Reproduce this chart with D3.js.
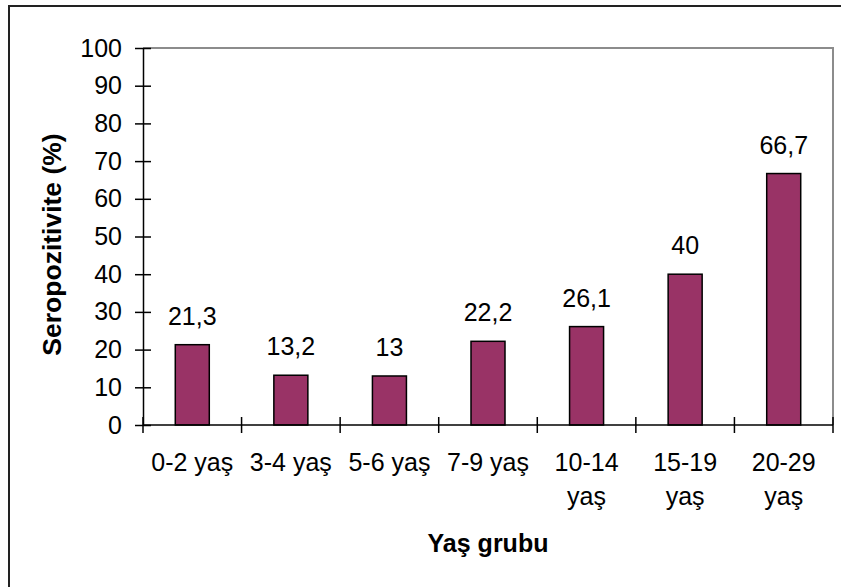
<!DOCTYPE html>
<html>
<head>
<meta charset="utf-8">
<script src="https://cdn.jsdelivr.net/npm/d3@7"></script>
<style>
  html, body { margin: 0; padding: 0; background: #fff; }
  svg { display: block; font-family: "Liberation Sans", Arial, sans-serif; }
</style>
</head>
<body>
<svg id="chart" width="841" height="587"></svg>
<script>
// Age groups (labels may wrap onto two lines) and seropositivity rates (%)
const categories = [["0-2 yaş"], ["3-4 yaş"], ["5-6 yaş"], ["7-9 yaş"], ["10-14", "yaş"], ["15-19", "yaş"], ["20-29", "yaş"]];
const values = [21.3, 13.2, 13, 22.2, 26.1, 40, 66.7];
const valueLabels = ["21,3", "13,2", "13", "22,2", "26,1", "40", "66,7"];
const yTicks = [0, 10, 20, 30, 40, 50, 60, 70, 80, 90, 100];

const svg = d3.select("#chart");
const plot = { left: 143, right: 833, top: 48, bottom: 425 };
const keys = categories.map((c, i) => i);

// Category slots (for tick marks) and bars centred in each slot
const slot = d3.scaleBand().domain(keys).range([plot.left, plot.right]).padding(0);
const x = d3.scaleBand().domain(keys).range([plot.left, plot.right])
  .paddingInner(0.655).paddingOuter(0.3275);
const y = d3.scaleLinear().domain([0, 100]).range([plot.bottom, plot.top]);

const FS = 25;

// Outer chart frame
svg.append("rect")
  .attr("x", 9).attr("y", 6).attr("width", 850).attr("height", 600)
  .attr("fill", "none").attr("stroke", "#222").attr("stroke-width", 2);

// Plot-area frame (grey top and right edges)
svg.append("path")
  .attr("d", `M${plot.left},${plot.top}H${plot.right}V${plot.bottom}`)
  .attr("fill", "none").attr("stroke", "#8c8c8c").attr("stroke-width", 2);

// Bars
svg.append("g").selectAll("rect").data(values).join("rect")
  .attr("x", (d, i) => x(i))
  .attr("y", d => y(d))
  .attr("width", x.bandwidth())
  .attr("height", d => y(0) - y(d))
  .attr("fill", "#993366")
  .attr("stroke", "#000").attr("stroke-width", 1.5);

// Value labels above the bars
svg.append("g").selectAll("text").data(values).join("text")
  .attr("x", (d, i) => x(i) + x.bandwidth() / 2)
  .attr("y", d => y(d) - 20)
  .attr("text-anchor", "middle")
  .attr("font-size", FS).attr("fill", "#000")
  .text((d, i) => valueLabels[i]);

// Y axis with crossing ticks
const yAxis = d3.axisLeft(y).tickValues(yTicks).tickSize(0).tickPadding(21);
const gy = svg.append("g").attr("transform", `translate(${plot.left},0)`).call(yAxis);
gy.select(".domain").attr("stroke", "#000").attr("stroke-width", 1.5);
gy.selectAll(".tick text").attr("font-size", FS).attr("fill", "#000")
  .attr("font-family", "Liberation Sans, Arial, sans-serif");
gy.selectAll(".tick").append("line")
  .attr("x1", -8).attr("x2", 8).attr("stroke", "#000").attr("stroke-width", 1.5);

// X axis: line, crossing ticks at slot boundaries, wrapped labels
const boundaries = keys.map(k => slot(k)).concat([plot.right]);
svg.append("line")
  .attr("x1", plot.left).attr("x2", plot.right)
  .attr("y1", plot.bottom).attr("y2", plot.bottom)
  .attr("stroke", "#000").attr("stroke-width", 1.5);
svg.append("g").selectAll("line").data(boundaries).join("line")
  .attr("x1", d => d).attr("x2", d => d)
  .attr("y1", plot.bottom - 8).attr("y2", plot.bottom + 8)
  .attr("stroke", "#000").attr("stroke-width", 1.5);

const xl = svg.append("g").selectAll("text").data(categories).join("text")
  .attr("x", (d, i) => slot(i) + slot.bandwidth() / 2)
  .attr("y", 471)
  .attr("text-anchor", "middle")
  .attr("font-size", FS).attr("fill", "#000");
xl.selectAll("tspan").data(d => d).join("tspan")
  .attr("x", function () { return d3.select(this.parentNode).attr("x"); })
  .attr("dy", (d, j) => j === 0 ? 0 : 34)
  .text(d => d);

// Axis titles
svg.append("text")
  .attr("x", (plot.left + plot.right) / 2).attr("y", 552)
  .attr("text-anchor", "middle")
  .attr("font-size", FS).attr("font-weight", "bold").attr("fill", "#000")
  .text("Yaş grubu");

svg.append("text")
  .attr("transform", `translate(61,${(plot.top + plot.bottom) / 2 + 8}) rotate(-90)`)
  .attr("text-anchor", "middle")
  .attr("font-size", 26.5).attr("font-weight", "bold").attr("fill", "#000")
  .text("Seropozitivite (%)");
</script>
</body>
</html>
